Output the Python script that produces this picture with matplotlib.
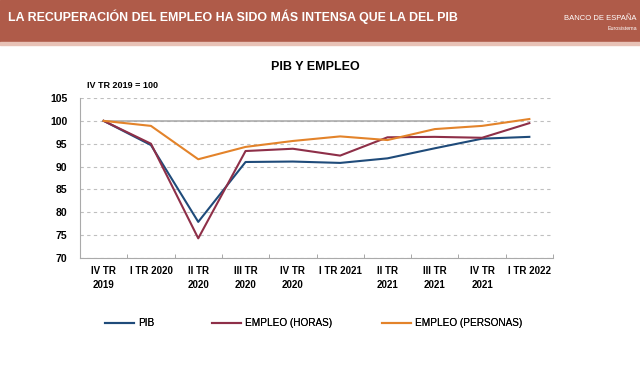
import matplotlib.pyplot as plt
from matplotlib.patches import Rectangle

quarters = ['IV TR\n2019', 'I TR 2020', 'II TR\n2020', 'III TR\n2020', 'IV TR\n2020',
            'I TR 2021', 'II TR\n2021', 'III TR\n2021', 'IV TR\n2021', 'I TR 2022']
pib = [100, 94.7, 77.9, 91.0, 91.1, 90.8, 91.8, 94.0, 96.1, 96.5]
empleo_horas = [100, 95.0, 74.3, 93.4, 93.9, 92.4, 96.4, 96.5, 96.3, 99.5]
empleo_personas = [100, 98.9, 91.6, 94.3, 95.6, 96.6, 95.8, 98.2, 98.9, 100.4]
base = [100] * 9

plt.rcParams['font.family'] = ['Liberation Sans', 'DejaVu Sans']

fig = plt.figure(figsize=(6.4, 3.84), dpi=100)

# header band
fig.patches.append(Rectangle((0, 1 - 42/384), 1, 42/384, transform=fig.transFigure,
                             color='#AF5B49', zorder=0))
fig.patches.append(Rectangle((0, 1 - 45/384), 1, 3/384, transform=fig.transFigure,
                             color='#E8C2B6', zorder=0))
fig.text(8/640, 1 - 17/384, 'LA RECUPERACIÓN DEL EMPLEO HA SIDO MÁS INTENSA QUE LA DEL PIB',
         color='white', fontsize=8.9, fontweight='bold', va='center', ha='left')
fig.text(637/640, 1 - 19/384, 'BANCO DE ESPAÑA', color='white', fontsize=5.5,
         va='center', ha='right')
fig.text(637/640, 1 - 28/384, 'Eurosistema', color='white', fontsize=3.8,
         va='center', ha='right')

ax = fig.add_axes([80/640, 1 - 258/384, 473/640, 160/384])
x = list(range(len(quarters)))

ax.plot(range(len(base)), base, color='#A6A6A6', lw=1.1, zorder=2)
l1, = ax.plot(x, pib, color='#1F4B7A', lw=1.5, zorder=3, label='PIB')
l2, = ax.plot(x, empleo_horas, color='#8E2F48', lw=1.5, zorder=3, label='EMPLEO (HORAS)')
l3, = ax.plot(x, empleo_personas, color='#E3832A', lw=1.5, zorder=3, label='EMPLEO (PERSONAS)')

ax.set_xlim(-0.5, len(quarters) - 0.5)
ax.set_ylim(70, 105)
ax.set_yticks(range(70, 106, 5))
ax.yaxis.grid(True, color='#BFBFBF', ls=(0, (3, 3)), lw=0.8)
ax.set_axisbelow(True)

ax.set_xticks(x)
ax.set_xticklabels(quarters, fontsize=7, fontweight='bold', linespacing=1.5)
ax.set_xticks([i + 0.5 for i in range(-1, len(quarters))], minor=True)
ax.tick_params(axis='x', which='major', length=0, pad=6)
ax.tick_params(axis='x', which='minor', direction='in', length=3, color='#999999')
ax.tick_params(axis='y', length=0, labelsize=7.5, pad=9)
for lbl in ax.get_yticklabels():
    lbl.set_fontweight('bold')

for s in ['top', 'right']:
    ax.spines[s].set_visible(False)
for s in ['left', 'bottom']:
    ax.spines[s].set_color('#AAAAAA')
    ax.spines[s].set_linewidth(0.8)

fig.text(315/640, 1 - 67/384, 'PIB Y EMPLEO', fontsize=9, fontweight='bold',
         ha='center', va='center')
fig.text(87/640, 1 - 85/384, 'IV TR 2019 = 100', fontsize=6.5, fontweight='bold',
         ha='left', va='center')

# legend entries placed one by one
for handle, xpos in [(l1, 105), (l2, 212), (l3, 382)]:
    leg = fig.legend(handles=[handle], loc='center left',
                     bbox_to_anchor=(xpos/640, 1 - 323/384), frameon=False,
                     fontsize=7.2, handlelength=2.9, handletextpad=0.4,
                     borderpad=0, borderaxespad=0)
    fig.add_artist(leg)

fig.savefig('out.png', dpi=100)
